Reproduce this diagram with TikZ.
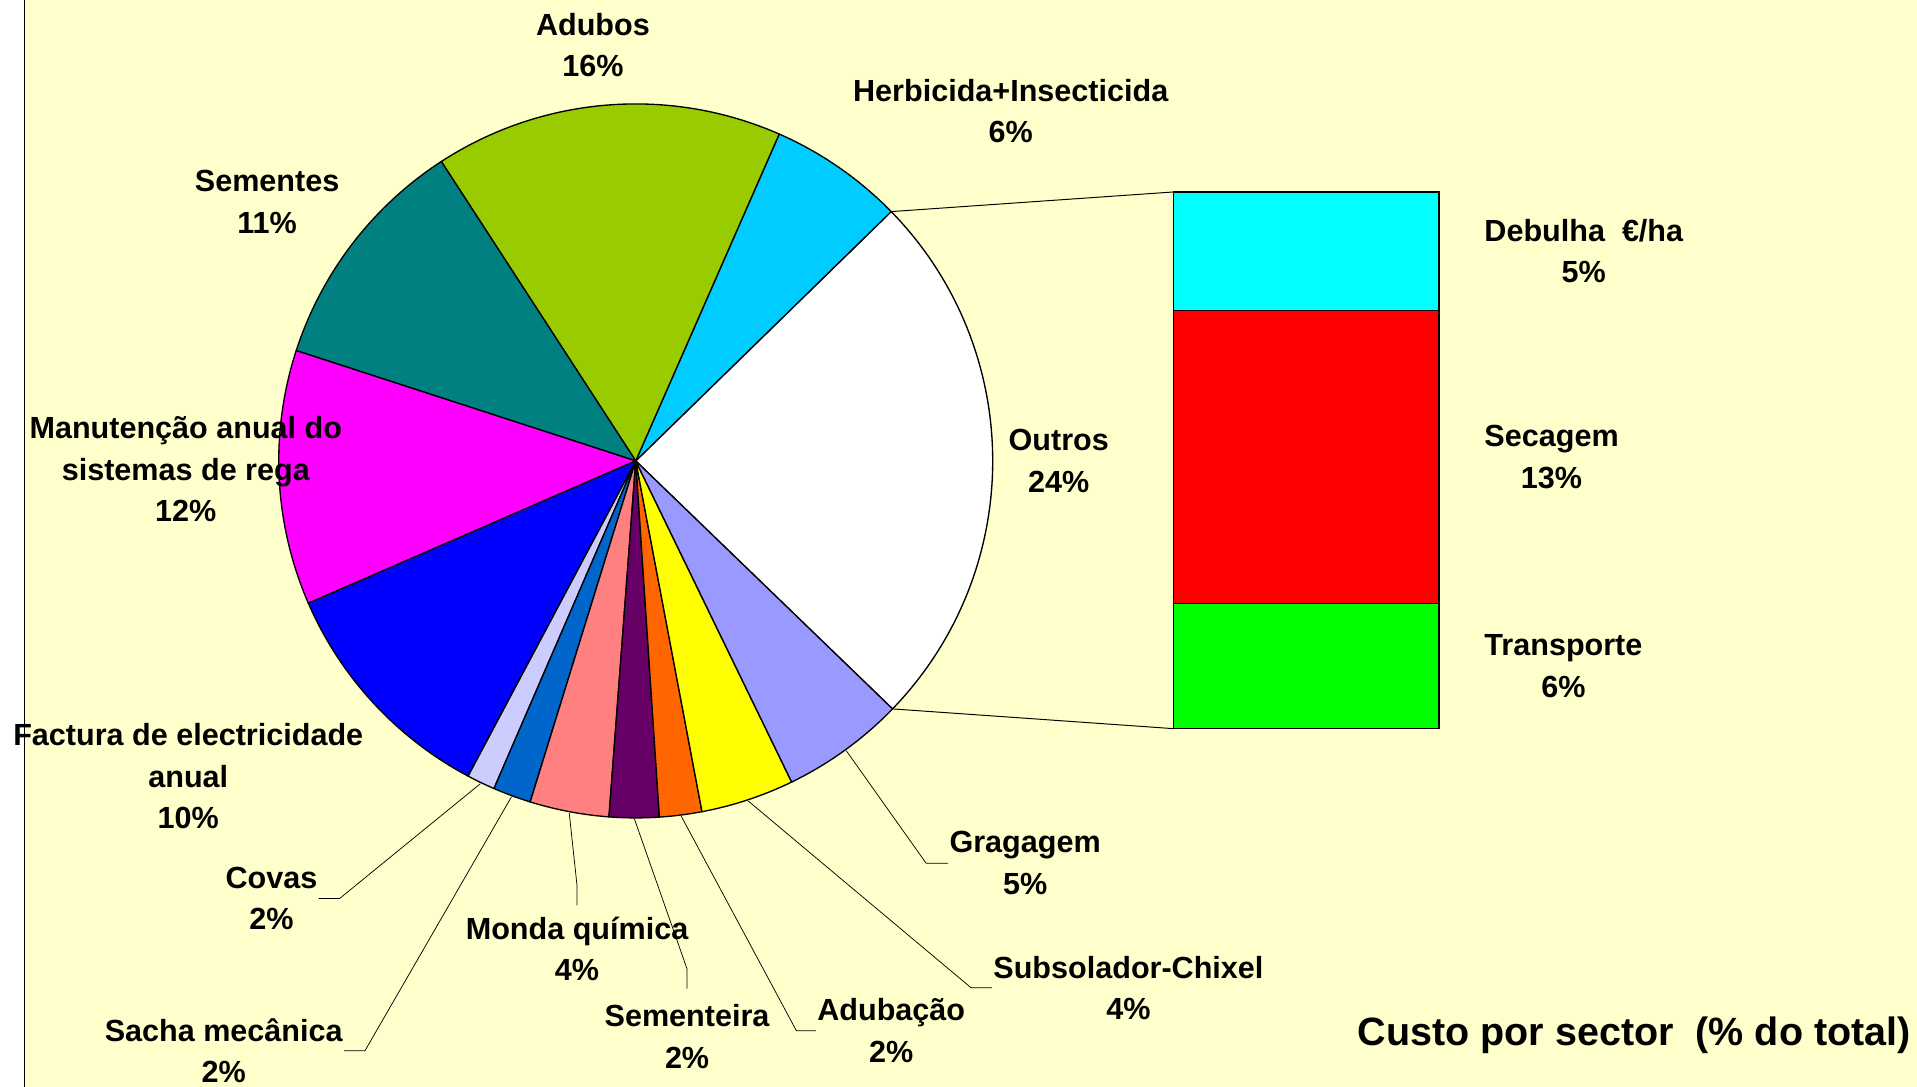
\documentclass[tikz,border=0pt]{standalone}
\usepackage{fontspec}
\setmainfont{Liberation Sans}
\usetikzlibrary{positioning}

\definecolor{chartbg}{HTML}{FFFFCC}
\definecolor{herbcol}{HTML}{00CCFF}
\definecolor{adubcol}{HTML}{99CC00}
\definecolor{semcol}{HTML}{008080}
\definecolor{regacol}{HTML}{FF00FF}
\definecolor{elecol}{HTML}{0000FF}
\definecolor{covacol}{HTML}{CCCCFF}
\definecolor{sachacol}{HTML}{0066CC}
\definecolor{mondacol}{HTML}{FF8080}
\definecolor{sementcol}{HTML}{660066}
\definecolor{adubacol}{HTML}{FF6600}
\definecolor{subcol}{HTML}{FFFF00}
\definecolor{gradcol}{HTML}{9999FF}
\definecolor{debcol}{HTML}{00FFFF}
\definecolor{seccol}{HTML}{FF0000}
\definecolor{transpcol}{HTML}{00FF00}

\begin{document}
\begin{tikzpicture}[x=1pt,y=1pt,
    slice/.style={draw=black,line width=1.1pt,line join=round},
    lbl/.style={font=\fontsize{25}{34}\selectfont\bfseries,align=center,inner sep=1pt},
    leader/.style={draw=black,line width=0.6pt},
    barbox/.style={draw=black,line width=1.1pt,minimum width=217,minimum height=#1,inner sep=0pt,outer sep=0pt},
    node distance=0pt
]
    % Chart area
    \useasboundingbox (-520,-512) rectangle (1048,377);
    \fill[white] (-520,-512) rectangle (1048,377);
    \fill[chartbg] (-500,-512) rectangle (1048,377);
    \draw[line width=1pt] (-500,-512) -- (-500,377);

    % Pie slices
    \filldraw[slice,fill=white] (0,0) -- (-44:292) arc[start angle=-44,end angle=44.3,radius=292] -- cycle;
    \filldraw[slice,fill=herbcol] (0,0) -- (44.3:292) arc[start angle=44.3,end angle=66.3,radius=292] -- cycle;
    \filldraw[slice,fill=adubcol] (0,0) -- (66.3:292) arc[start angle=66.3,end angle=123,radius=292] -- cycle;
    \filldraw[slice,fill=semcol] (0,0) -- (123:292) arc[start angle=123,end angle=162,radius=292] -- cycle;
    \filldraw[slice,fill=regacol] (0,0) -- (162:292) arc[start angle=162,end angle=203.5,radius=292] -- cycle;
    \filldraw[slice,fill=elecol] (0,0) -- (203.5:292) arc[start angle=203.5,end angle=242,radius=292] -- cycle;
    \filldraw[slice,fill=covacol] (0,0) -- (242:292) arc[start angle=242,end angle=246.6,radius=292] -- cycle;
    \filldraw[slice,fill=sachacol] (0,0) -- (246.6:292) arc[start angle=246.6,end angle=252.8,radius=292] -- cycle;
    \filldraw[slice,fill=mondacol] (0,0) -- (252.8:292) arc[start angle=252.8,end angle=265.7,radius=292] -- cycle;
    \filldraw[slice,fill=sementcol] (0,0) -- (265.7:292) arc[start angle=265.7,end angle=273.8,radius=292] -- cycle;
    \filldraw[slice,fill=adubacol] (0,0) -- (273.8:292) arc[start angle=273.8,end angle=280.7,radius=292] -- cycle;
    \filldraw[slice,fill=subcol] (0,0) -- (280.7:292) arc[start angle=280.7,end angle=295.9,radius=292] -- cycle;
    \filldraw[slice,fill=gradcol] (0,0) -- (295.9:292) arc[start angle=295.9,end angle=316,radius=292] -- cycle;

    % Points on the pie edge
    \coordinate (outrostop) at (44.3:292);
    \coordinate (outrosbot) at (-44:292);
    \coordinate (pcovas) at (244.3:293);
    \coordinate (psacha) at (249.7:293);
    \coordinate (pmonda) at (259.3:293);
    \coordinate (psement) at (269.8:293);
    \coordinate (padubac) at (277.3:293);
    \coordinate (psubsol) at (288.3:293);
    \coordinate (pgrad) at (306:293);

    % Outros breakdown bar
    \node[barbox=97,fill=debcol,anchor=north west] (debulha) at (440,220) {};
    \node[barbox=239.6,fill=seccol,below=of debulha] (secagem) {};
    \node[barbox=102.4,fill=transpcol,below=of secagem] (transporte) {};
    \draw[line width=0.8pt] (outrostop) -- (debulha.north west);
    \draw[line width=0.8pt] (outrosbot) -- (transporte.south west);

    % Slice labels
    \node[lbl] (adubos) at (-35,340) {Adubos\\16\%};
    \node[lbl] (herb) at (306.7,286) {Herbicida+Insecticida\\6\%};
    \node[lbl] (sementes) at (-301.5,212) {Sementes\\11\%};
    \node[lbl] (rega) at (-368,-7) {Manutenção anual do\\sistemas de rega\\12\%};
    \node[lbl] (outros) at (346,0) {Outros\\24\%};
    \node[lbl] (factura) at (-366,-258) {Factura de electricidade\\anual\\10\%};
    \node[lbl] (covas) at (-298,-358) {Covas\\2\%};
    \node[lbl] (sacha) at (-337,-482.5) {Sacha mecânica\\2\%};
    \node[lbl] (monda) at (-48,-399) {Monda química\\4\%};
    \node[lbl] (sementeira) at (42,-471) {Sementeira\\2\%};
    \node[lbl] (adubacao) at (209,-466) {Adubação\\2\%};
    \node[lbl] (subsolador) at (403,-431) {Subsolador-Chixel\\4\%};
    \node[lbl] (gragagem) at (318.5,-329) {Gragagem\\5\%};

    % Bar labels
    \node[lbl,right=36pt of debulha] (ldebulha) {Debulha\ \ €/ha\\5\%};
    \node[lbl,right=36pt of secagem] (lsecagem) {Secagem\\13\%};
    \node[lbl,right=36pt of transporte] (ltransporte) {Transporte\\6\%};

    % Leader lines
    \draw[leader] (pcovas) -- ([xshift=17]covas.east) -- (covas.east);
    \draw[leader] (psacha) -- ([xshift=17]sacha.east) -- (sacha.east);
    \draw[leader] (pmonda) -- ([yshift=24]monda.north) -- ([yshift=8]monda.north);
    \draw[leader] (psement) -- ([yshift=28]sementeira.north) -- ([yshift=12]sementeira.north);
    \draw[leader] (padubac) -- ([xshift=-16]adubacao.west) -- (adubacao.west);
    \draw[leader] (psubsol) -- ([xshift=-17]subsolador.west) -- (subsolador.west);
    \draw[leader] (pgrad) -- ([xshift=-18]gragagem.west) -- (gragagem.west);

    % Title
    \node[font=\fontsize{32.3}{38}\selectfont\bfseries,anchor=east,inner sep=0pt] (title) at (1043,-470) {Custo por sector\ \ (\% do total)};
\end{tikzpicture}
\end{document}
